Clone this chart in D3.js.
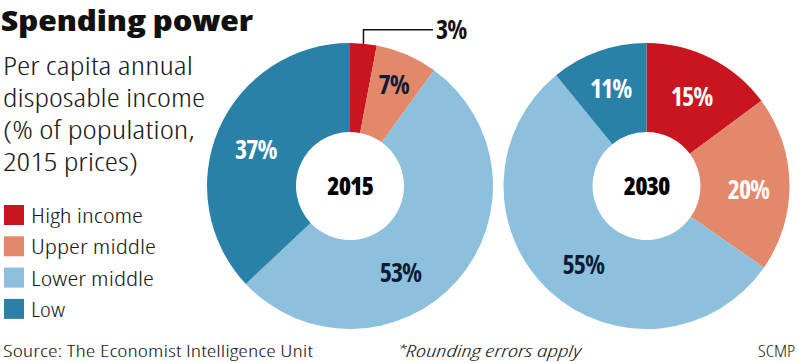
<!DOCTYPE html>
<html>
<head>
<meta charset="utf-8">
<script src="https://cdn.jsdelivr.net/npm/d3@7"></script>
<style>
  body { margin: 0; background: #fff; }
  svg text { font-family: "Open Sans", "Liberation Sans Narrow", sans-serif; font-stretch: condensed; }
</style>
</head>
<body>
<div id="chart"></div>
<script>
// data
var categories = ["High income", "Upper middle", "Lower middle", "Low"];
var colors = ["#c8151f", "#e3886b", "#8cc0dd", "#2a81a7"];
var years = ["2015", "2030"];
var values2015 = [3, 7, 53, 37];
var values2030 = [15, 20, 55, 11];
var labels2015 = ["3%", "7%", "53%", "37%"];
var labels2030 = ["15%", "20%", "55%", "11%"];

var svgWidth = 798, svgHeight = 363;

var svg = d3.select("#chart").append("svg")
  .attr("width", svgWidth)
  .attr("height", svgHeight);

// title + subtitle
svg.append("text")
  .attr("x", 1).attr("y", 31)
  .style("font-size", "29px").style("font-weight", 800)
  .attr("textLength", 252).attr("lengthAdjust", "spacingAndGlyphs")
  .attr("fill", "#111")
  .text("Spending power");

var subLines = ["Per capita annual", "disposable income", "(% of population,", "2015 prices)"];
var subWidths = [190, 202, 192, 135];
svg.append("g").selectAll("text")
  .data(subLines)
  .enter().append("text")
  .attr("x", 3)
  .attr("y", (d, i) => 75 + i * 32)
  .attr("textLength", (d, i) => subWidths[i]).attr("lengthAdjust", "spacingAndGlyphs")
  .style("font-size", "25px").style("font-weight", 300)
  .attr("fill", "#1a1a1a")
  .text(d => d);

// legend
var legendWidths = [112, 125, 123, 34];
var legend = svg.append("g").attr("transform", "translate(4, 205)");
var legendItems = legend.selectAll("g")
  .data(categories)
  .enter().append("g")
  .attr("transform", (d, i) => `translate(0, ${i * 31.3})`);
legendItems.append("rect")
  .attr("width", 20).attr("height", 20)
  .attr("fill", (d, i) => colors[i]);
legendItems.append("text")
  .attr("x", 27).attr("y", 18)
  .attr("textLength", (d, i) => legendWidths[i]).attr("lengthAdjust", "spacingAndGlyphs")
  .style("font-size", "21px").style("font-weight", 300)
  .attr("fill", "#1a1a1a")
  .text(d => d);

// donuts
var outerR = 143, innerR = 54;
var pie = d3.pie().sort(null).value(d => d);
var arc = d3.arc().innerRadius(innerR).outerRadius(outerR);

// label tweaks (radius / angle shifts) per donut, indexed by slice
var donuts = [
  { year: years[0], values: values2015, labels: labels2015, cx: 350, cy: 186,
    labelColor: ["none", "#0d1b36", "#0d1b36", "#fff"],
    shift: [0, 0, 0.32, -0.04], rad: [0, 110, 100, 101] },
  { year: years[1], values: values2030, labels: labels2030, cx: 646.5, cy: 186,
    labelColor: ["#fff", "#fff", "#0d1b36", "#fff"],
    shift: [0, 0.05, -0.07, -0.01], rad: [100, 102, 101, 104] }
];

donuts.forEach(function(dn) {
  var g = svg.append("g").attr("transform", `translate(${dn.cx}, ${dn.cy})`);
  var arcs = pie(dn.values);

  g.selectAll("path")
    .data(arcs)
    .enter().append("path")
    .attr("d", arc)
    .attr("fill", d => colors[d.index]);

  g.selectAll("text.pct")
    .data(arcs.filter(d => dn.labelColor[d.index] !== "none"))
    .enter().append("text")
    .attr("class", "pct")
    .attr("transform", function(d) {
      var a = (d.startAngle + d.endAngle) / 2 + dn.shift[d.index];
      var r = dn.rad[d.index];
      return `translate(${r * Math.sin(a)}, ${-r * Math.cos(a)})`;
    })
    .attr("text-anchor", "middle")
    .attr("dy", "0.36em")
    .style("font-size", "26px").style("font-weight", 700)
    .style("letter-spacing", "-1px")
    .attr("fill", d => dn.labelColor[d.index])
    .text(d => dn.labels[d.index]);

  g.append("text")
    .attr("text-anchor", "middle")
    .attr("dy", "0.36em")
    .style("font-size", "25px").style("font-weight", 800)
    .style("letter-spacing", "-1px")
    .attr("fill", "#000")
    .text(dn.year);
});

// leader line for the small 3% slice
var small = pie(values2015)[0];
var midA = (small.startAngle + small.endAngle) / 2;
var lx = 350 + outerR * Math.sin(midA), ly = 186 - outerR * Math.cos(midA);
svg.append("path")
  .attr("d", `M${lx},${ly} V${ly - 14} H433`)
  .attr("fill", "none")
  .attr("stroke", "#111")
  .attr("stroke-width", 1.5);
svg.append("text")
  .attr("x", 436).attr("y", 39)
  .style("font-size", "26px").style("font-weight", 700)
  .style("letter-spacing", "-1px")
  .attr("fill", "#111")
  .text(labels2015[0]);

// footer
svg.append("text")
  .attr("x", 3).attr("y", 357)
  .attr("textLength", 310).attr("lengthAdjust", "spacingAndGlyphs")
  .style("font-size", "17px").style("font-weight", 300)
  .attr("fill", "#1a1a1a")
  .text("Source: The Economist Intelligence Unit");
svg.append("text")
  .attr("x", 397).attr("y", 357)
  .attr("textLength", 184).attr("lengthAdjust", "spacingAndGlyphs")
  .style("font-size", "17px").style("font-weight", 300).style("font-style", "italic")
  .attr("fill", "#1a1a1a")
  .text("*Rounding errors apply");
svg.append("text")
  .attr("x", 758).attr("y", 357)
  .attr("textLength", 37).attr("lengthAdjust", "spacingAndGlyphs")
  .style("font-size", "17px").style("font-weight", 300)
  .attr("fill", "#1a1a1a")
  .text("SCMP");
</script>
</body>
</html>
